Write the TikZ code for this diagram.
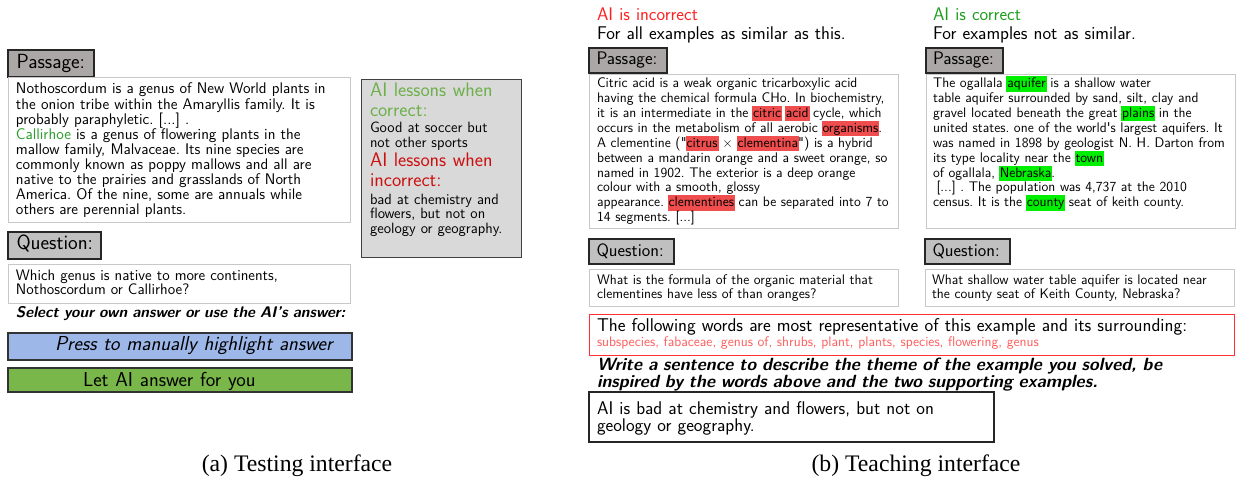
\documentclass[tikz,border=0pt]{standalone}
\usepackage{fontspec}
\newfontfamily\capfont{Liberation Serif}
\definecolor{lblA}{HTML}{ABA7A7}
\definecolor{lblB}{HTML}{C0C0C0}
\definecolor{boxline}{HTML}{C8C8C8}
\definecolor{lessfill}{HTML}{D9D9D9}
\definecolor{lgreen}{HTML}{6DB04B}
\definecolor{lred}{HTML}{CC1010}
\definecolor{aired}{HTML}{FF2020}
\definecolor{aigreen}{HTML}{1E9E1E}
\definecolor{cgreen}{HTML}{2A9A2A}
\definecolor{hlred}{HTML}{F04E4E}
\definecolor{hlgreen}{HTML}{00EE00}
\definecolor{wordred}{HTML}{FF5C5C}
\definecolor{framered}{HTML}{FF3030}
\definecolor{btnblue}{HTML}{9DB7E9}
\definecolor{btngreen}{HTML}{79B74A}
\newsavebox\hlsave
\newcommand\hlw[2]{\sbox\hlsave{#2}\smash{\rlap{\kern-1pt\textcolor{#1}{\rule[-4pt]{\dimexpr\wd\hlsave+2pt\relax}{15.5pt}}}}\usebox\hlsave}
\newcommand\sz[2]{\sffamily\fontsize{#1}{#2}\selectfont\frenchspacing}
\newcommand\dq{\XeTeXglyph\XeTeXcharglyph"22\relax}
\newcommand\sq{\XeTeXglyph\XeTeXcharglyph"27\relax}
\tikzset{
  lbl/.style={draw=black!85, line width=1.1pt, anchor=north west, inner sep=0pt, outer sep=0pt},
  cbox/.style={draw=boxline, line width=1pt, anchor=north west, inner sep=0pt, outer sep=0pt, fill=white},
  darkbox/.style={draw=black!85, line width=1.1pt, anchor=north west, inner sep=0pt, outer sep=0pt, fill=white},
  btn/.style={draw=black!80, line width=1.4pt, anchor=north west, inner sep=0pt, outer sep=0pt},
  txt/.style={anchor=base west, inner sep=0pt, outer sep=0pt, align=left, text width=660pt},
}
\begin{document}
\begin{tikzpicture}[x=1pt,y=-1pt]
\useasboundingbox[fill=white] (0,0) rectangle (1239,478);

% ---------------- (a) Testing interface ----------------
\node[lbl, fill=lblA, minimum width=86, minimum height=27] (lblPassA) at (8,50) {};
\node[txt, font=\sz{20.5}{22}] (tPassA) at (16.5,68.3) {Passage:};
\node[cbox, minimum width=342, minimum height=145] (boxPassA) at (8,78) {};
\node[txt, font=\sz{15.4}{15.1}] (bodyPassA) at (16,94) {Nothoscordum is a genus of New World plants in\\
the onion tribe within the Amaryllis family. It is\\
probably paraphyletic. [...] .\\
\textcolor{cgreen}{Callirhoe} is a genus of flowering plants in the\\
mallow family, Malvaceae. Its nine species are\\
commonly known as poppy mallows and all are\\
native to the prairies and grasslands of North\\
America. Of the nine, some are annuals while\\
others are perennial plants.};

\node[lbl, fill=lblB, minimum width=93, minimum height=27] (lblQA) at (8,232) {};
\node[txt, font=\sz{20.5}{22}] (tQA) at (16.5,250) {Question:};
\node[cbox, minimum width=342, minimum height=38] (boxQA) at (8,265) {};
\node[txt, font=\sz{15.2}{14.5}] (bodyQA) at (16,280) {Which genus is native to more continents,\\
Nothoscordum or Callirhoe?};

\node[txt, font={\sz{15.4}{16}\bfseries\itshape}] (tSelect) at (16,317.7) {Select your own answer or use the AI’s answer:};

\node[btn, fill=btnblue, minimum width=344, minimum height=27] (btnPress) at (8,333) {};
\node[txt, font={\sz{20.2}{22}\itshape}] (tPress) at (55,350.5) {Press to manually highlight answer};
\node[btn, fill=btngreen, minimum width=344, minimum height=24] (btnLet) at (8,368) {};
\node[txt, font=\sz{20.2}{22}] (tLet) at (83,386) {Let AI answer for you};

\node[draw=black!75, line width=1pt, fill=lessfill, anchor=north west, inner sep=0pt,
      minimum width=160, minimum height=178] (boxLess) at (361,79) {};
\node[txt, font=\sz{19.6}{20}, text=lgreen] (tLessC) at (370,96.7) {AI lessons when\\correct:};
\node[txt, font=\sz{14.9}{15}] (bodyLessC) at (370,133) {Good at soccer but\\not other sports};
\node[txt, font=\sz{19.6}{20}, text=lred] (tLessI) at (370,166.7) {AI lessons when\\incorrect:};
\node[txt, font=\sz{14.9}{14.6}] (bodyLessI) at (370,204.3) {bad at chemistry and\\flowers, but not on\\geology or geography.};

\node[anchor=base, inner sep=0pt, font=\capfont\fontsize{23.7}{28}\selectfont] (capA) at (297,471) {(a) Testing interface};

% ---------------- (b) Teaching interface ----------------
\node[txt, font=\sz{18.3}{19}, text=aired] (tIncorrect) at (597,20.7) {AI is incorrect};
\node[txt, font=\sz{18.4}{19}] (tAllSimilar) at (597,39.3) {For all examples as similar as this.};
\node[txt, font=\sz{18.3}{19}, text=aigreen] (tCorrect) at (933,20.7) {AI is correct};
\node[txt, font=\sz{18.4}{19}] (tNotSimilar) at (933,39.3) {For examples not as similar.};

\node[lbl, fill=lblA, minimum width=78, minimum height=25] (lblPassB) at (589,48) {};
\node[txt, font=\sz{18.2}{20}] (tPassB) at (596.5,65) {Passage:};
\node[cbox, minimum width=309, minimum height=154] (boxPassB) at (589,75) {};
\node[txt, font=\sz{13.9}{14.9}] (bodyPassB) at (597,87.7) {Citric acid is a weak organic tricarboxylic acid\\
having the chemical formula CHo. In biochemistry,\\
it is an intermediate in the \hlw{hlred}{citric} \hlw{hlred}{acid} cycle, which\\
occurs in the metabolism of all aerobic \hlw{hlred}{organisms}.\\
A clementine (\dq\hlw{hlred}{citrus} × \hlw{hlred}{clementina}\dq) is a hybrid\\
between a mandarin orange and a sweet orange, so\\
named in 1902. The exterior is a deep orange\\
colour with a smooth, glossy\\
appearance. \hlw{hlred}{clementines} can be separated into 7 to\\
14 segments. [...]};

\node[lbl, fill=lblA, minimum width=77, minimum height=25] (lblPassC) at (926,48) {};
\node[txt, font=\sz{18.2}{20}] (tPassC) at (933,65) {Passage:};
\node[cbox, minimum width=309, minimum height=154] (boxPassC) at (926,75) {};
\node[txt, font=\sz{13.9}{14.9}] (bodyPassC) at (933,87.7) {The ogallala \hlw{hlgreen}{aquifer} is a shallow water\\
table aquifer surrounded by sand, silt, clay and\\
gravel located beneath the great \hlw{hlgreen}{plains} in the\\
united states. one of the world\sq s largest aquifers. It\\
was named in 1898 by geologist N. H. Darton from\\
its type locality near the \hlw{hlgreen}{town}\\
of ogallala, \hlw{hlgreen}{Nebraska}.\\
\hspace*{3.5pt}[...] . The population was 4,737 at the 2010\\
census. It is the \hlw{hlgreen}{county} seat of keith county.};

\node[lbl, fill=lblB, minimum width=85, minimum height=25] (lblQB) at (589,239) {};
\node[txt, font=\sz{18}{20}] (tQB) at (596.5,256.3) {Question:};
\node[cbox, minimum width=309, minimum height=36] (boxQB) at (589,270) {};
\node[txt, font=\sz{13.9}{14.7}] (bodyQB) at (597,284) {What is the formula of the organic material that\\
clementines have less of than oranges?};

\node[lbl, fill=lblB, minimum width=85, minimum height=25] (lblQC) at (925,239) {};
\node[txt, font=\sz{18}{20}] (tQC) at (932.5,256.3) {Question:};
\node[cbox, minimum width=309, minimum height=36] (boxQC) at (925,270) {};
\node[txt, font=\sz{13.9}{14.7}] (bodyQC) at (932,284) {What shallow water table aquifer is located near\\
the county seat of Keith County, Nebraska?};

\node[draw=framered, line width=1.1pt, fill=white, anchor=north west, inner sep=0pt,
      minimum width=645, minimum height=41] (boxWords) at (589,314) {};
\node[txt, font=\sz{18.5}{19}] (tWords) at (597,331) {The following words are most representative of this example and its surrounding:};
\node[txt, font=\sz{13.9}{15}, text=wordred] (listWords) at (597,346.5) {subspecies, fabaceae, genus of, shrubs, plant, plants, species, flowering, genus};

\node[txt, font={\sz{17.7}{14.3}\bfseries\itshape}] (tWrite) at (597,370.7) {Write a sentence to describe the theme of the example you solved, be\\
inspired by the words above and the two supporting examples.};

\node[darkbox, minimum width=405, minimum height=50] (boxAnswer) at (589,392) {};
\node[txt, font=\sz{18.4}{17.7}] (bodyAnswer) at (597,414) {AI is bad at chemistry and flowers, but not on\\
geology or geography.};

\node[anchor=base, inner sep=0pt, font=\capfont\fontsize{23.7}{28}\selectfont] (capB) at (916,471) {(b) Teaching interface};
\end{tikzpicture}
\end{document}
